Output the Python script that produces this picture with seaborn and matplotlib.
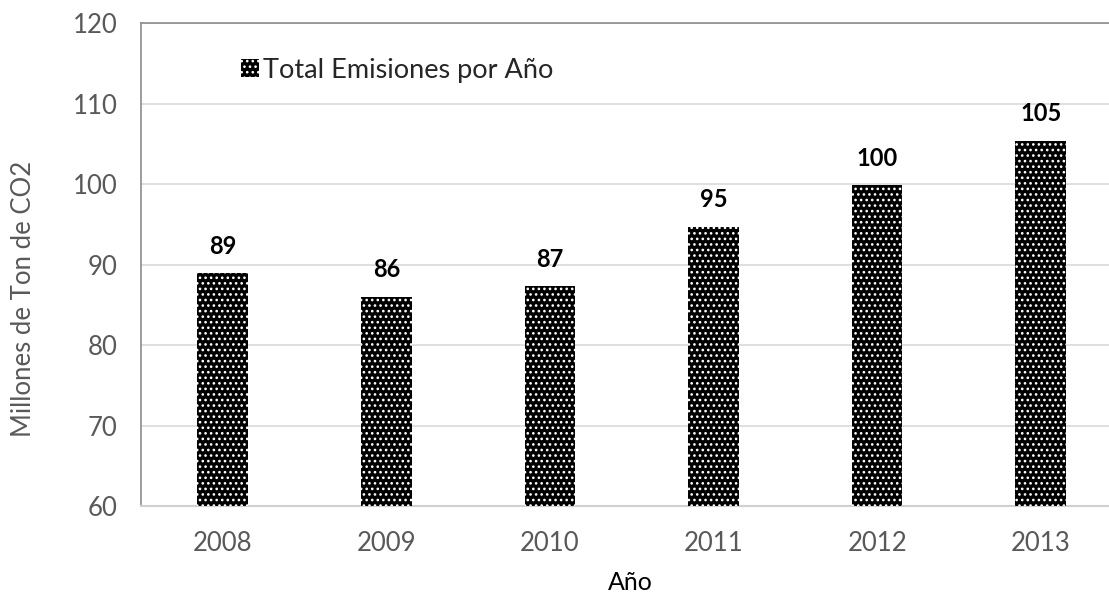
import matplotlib
matplotlib.use("Agg")
import matplotlib.pyplot as plt
from matplotlib.patches import Patch
import seaborn as sns
import pandas as pd

# Annual CO2 emissions (millions of tonnes)
years = ["2008", "2009", "2010", "2011", "2012", "2013"]
emissions = [88.9, 86.0, 87.3, 94.7, 99.9, 105.4]
series_name = "Total Emisiones por Año"
y_ticks = [60, 70, 80, 90, 100, 110, 120]

df = pd.DataFrame({"Año": years, "Emisiones": emissions})

sns.set_theme(style="white")
plt.rcParams["font.family"] = ["Lato", "DejaVu Sans"]
plt.rcParams["hatch.color"] = "white"
plt.rcParams["hatch.linewidth"] = 1.1

fig = plt.figure(figsize=(11.09, 5.94), dpi=100)
ax = fig.add_axes([0.1271, 0.1481, 0.8851, 0.8131])

sns.barplot(data=df, x="Año", y="Emisiones", color="black", width=0.31,
            saturation=1, ax=ax, zorder=3)

for bar in ax.patches:
    bar.set_facecolor("black")
    bar.set_edgecolor("white")
    bar.set_linewidth(0)
    bar.set_hatch("...")

# Value labels above each bar
for bar, val in zip(ax.patches, emissions):
    ax.annotate(f"{val:.0f}", (bar.get_x() + bar.get_width() / 2, val),
                xytext=(0, 11), textcoords="offset points",
                ha="center", va="bottom", fontsize=17, fontweight="bold",
                color="black")

ax.set_ylim(60, 120)
ax.set_xlim(-0.5, 5.5)
ax.set_yticks(y_ticks)
ax.yaxis.grid(True, color="#d9d9d9", linewidth=1.2, zorder=0)
ax.set_axisbelow(True)

ax.tick_params(axis="both", length=0, labelsize=18.5, labelcolor="#595959")
ax.tick_params(axis="y", pad=17)
ax.tick_params(axis="x", pad=18)

for side in ["left", "top", "right"]:
    ax.spines[side].set_color("#8c8c8c")
    ax.spines[side].set_linewidth(1.2)
ax.spines["bottom"].set_color("#d0d0d0")
ax.spines["bottom"].set_linewidth(1.5)

ax.set_xlabel("Año", fontsize=18, color="black", va="center")
ax.set_ylabel("Millones de Ton de CO2", fontsize=18.5, color="#595959")
ax.xaxis.set_label_coords((630 - 141) / 981.6, -(582 - 506) / 483)
ax.yaxis.set_label_coords(-0.107, (506 - 299) / 483)

handle = Patch(facecolor="black", edgecolor="white", linewidth=0, hatch="...")
ax.legend([handle], [series_name], loc="center left",
          bbox_to_anchor=((241 - 141) / 981.6, (506 - 70) / 483), frameon=False,
          fontsize=19.5, handlelength=0.68, handleheight=0.68,
          handletextpad=0.15, borderaxespad=0, borderpad=0)

fig.savefig("out.png", dpi=100)
